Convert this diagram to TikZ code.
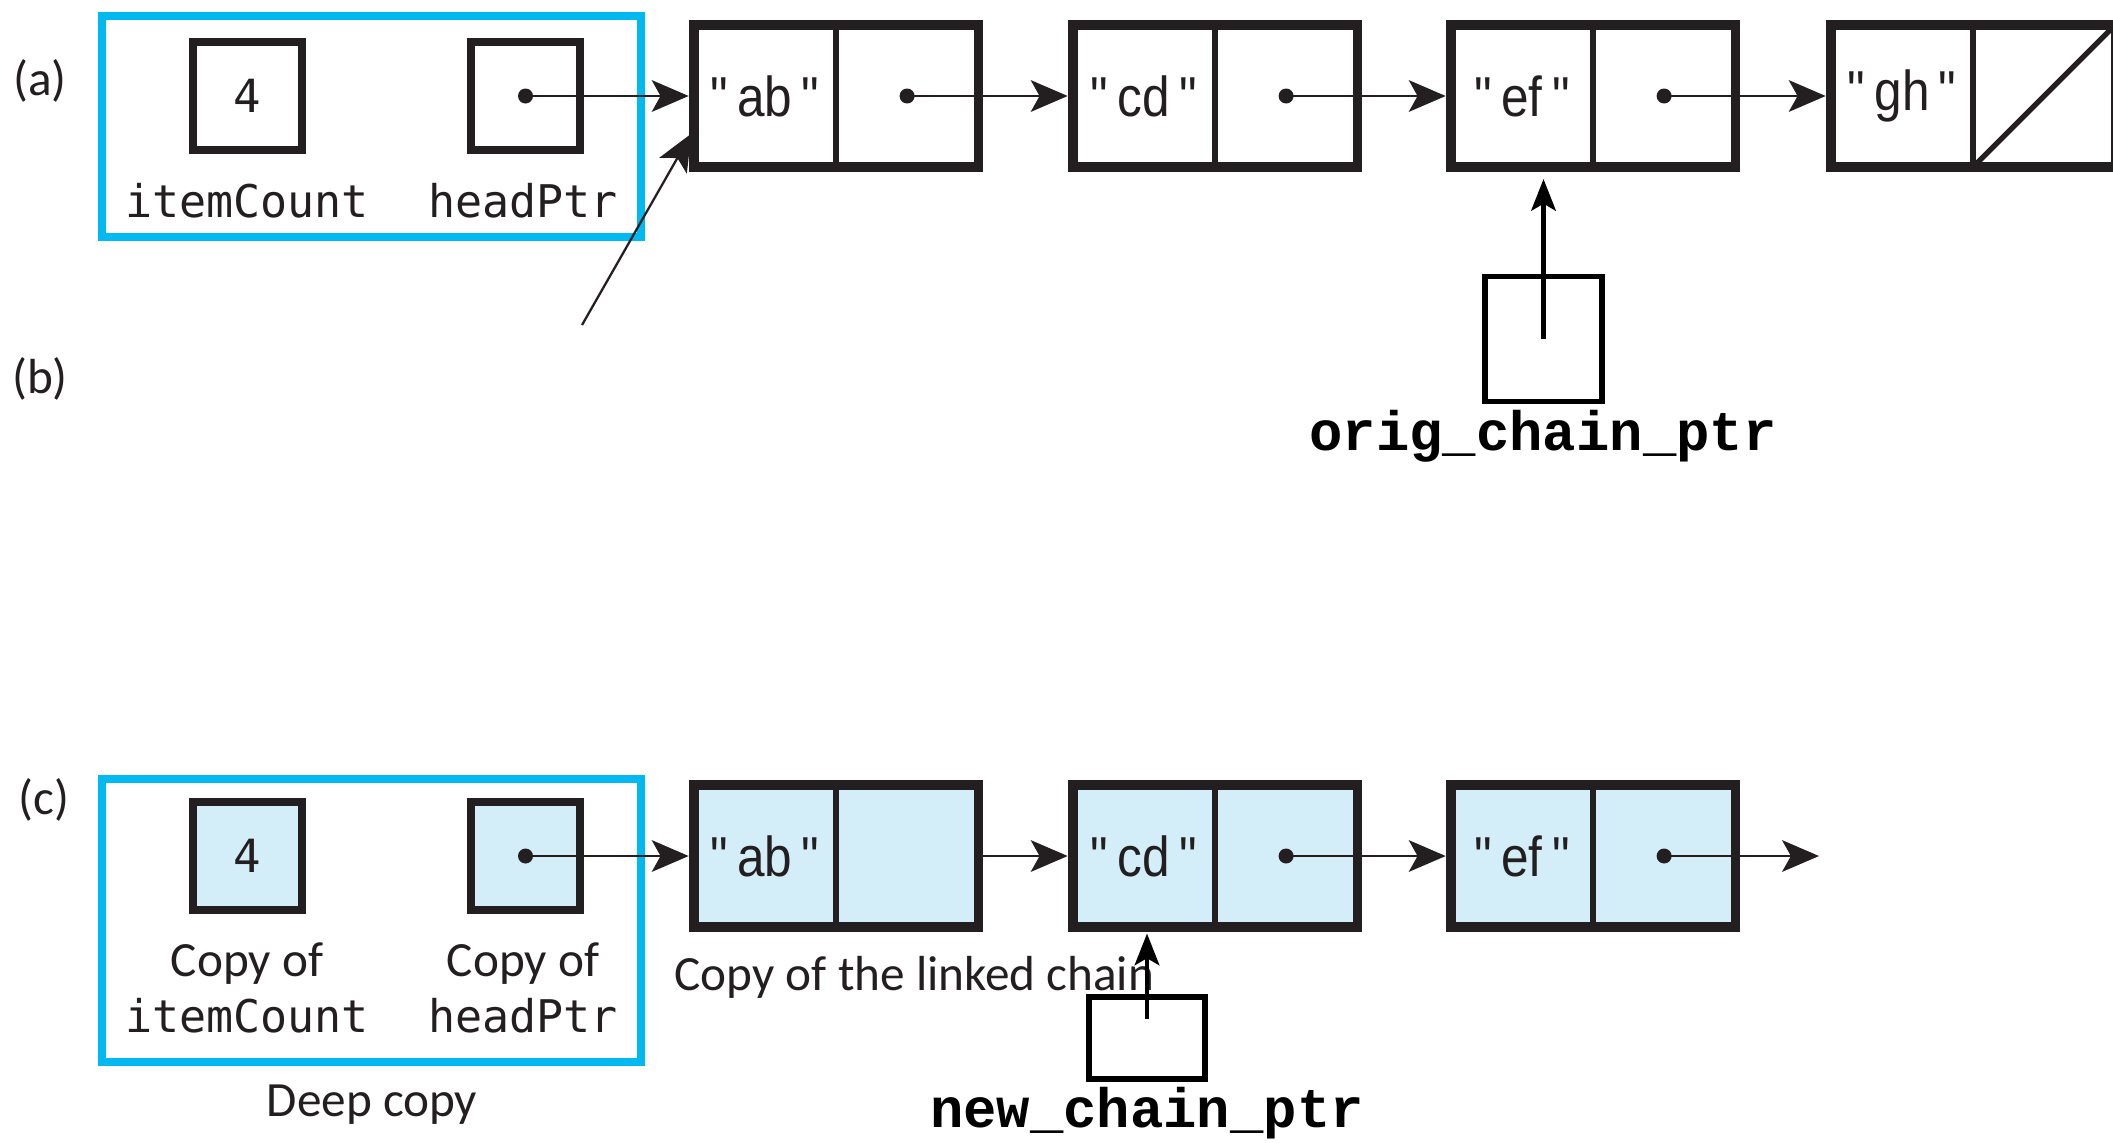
\documentclass[tikz,border=0pt]{standalone}
\usepackage{fontspec}
\setmainfont{Carlito}
\newfontfamily\codefont{DejaVu Sans Mono}
\newfontfamily\ptrfont{Liberation Mono}
\newfontfamily\cellfont[FakeStretch=0.88]{Liberation Sans}
\usetikzlibrary{arrows.meta,positioning}
\definecolor{ink}{HTML}{231F20}
\definecolor{framecyan}{HTML}{00B9F0}
\definecolor{copyfill}{HTML}{D4EEF9}

\begin{document}
\begin{tikzpicture}[
  x=0.01cm, y=-0.01cm,
  >=Stealth,
  cell/.style={
    draw=ink,
    line width=1.5pt,
    outer sep=0pt,
    inner sep=0pt,
    minimum width=1.42cm,
    minimum height=1.42cm,
    font=\cellfont\fontsize{16pt}{18pt}\selectfont,
    text=ink
  },
  cellframe/.style={draw=ink, line width=2.6pt},
  varbox/.style={
    draw=ink,
    line width=2.4pt,
    outer sep=0pt,
    inner sep=0pt,
    minimum width=1.09cm,
    minimum height=1.08cm,
    font=\codefont\fontsize{13pt}{15pt}\selectfont,
    text=ink
  },
  groupframe/.style={draw=framecyan, line width=2.1pt, minimum width=5.39cm, inner sep=0pt},
  ptrbox/.style={draw=black, line width=1.6pt, inner sep=0pt, outer sep=0pt},
  link/.style={-{Stealth[length=10.5pt,width=9pt,inset=2.5pt]}, draw=ink, line width=0.65pt, shorten >=1.5pt},
  extptr/.style={-{Stealth[length=9pt,width=7pt,inset=2pt]}, draw=black, line width=1.3pt},
  varname/.style={font=\codefont\fontsize{12.8pt}{15pt}\selectfont, text=ink, inner sep=0pt},
  caption/.style={font=\fontsize{14pt}{17pt}\selectfont, text=ink, inner sep=0pt},
  ptrname/.style={font=\ptrfont\bfseries\fontsize{15.8pt}{18pt}\selectfont, inner sep=0pt}
]
  \clip (0,0) rectangle (2113,1142);

  % Part labels
  \node[caption] (parta) at (40,81) {(a)};
  \node[caption] (partb) at (40,379) {(b)};
  \node[caption] (partc) at (44,800) {(c)};

  % (a) List object with itemCount and headPtr
  \node[groupframe, minimum height=2.21cm] (origframe) at (371.5,126.5) {};
  \node[varbox] (countbox) at (247.5,96) {4};
  \node[varbox] (headbox) at (525.5,96) {};
  \fill[ink] (headbox.center) circle (0.075cm);
  \node[varname, anchor=base] (countname) at (247,217) {itemCount};
  \node[varname, anchor=base] (headname) at (523,217) {headPtr};

  % Original linked chain
  \node[cell] (ab) at (765,96) {"\,ab\,"};
  \node[cell, right=0pt of ab] (abnext) {};
  \draw[cellframe] (ab.north west) rectangle (abnext.south east);
  \node[cell] (cd) at (1144,96) {"\,cd\,"};
  \node[cell, right=0pt of cd] (cdnext) {};
  \draw[cellframe] (cd.north west) rectangle (cdnext.south east);
  \node[cell] (ef) at (1522,96) {"\,ef\,"};
  \node[cell, right=0pt of ef] (efnext) {};
  \draw[cellframe] (ef.north west) rectangle (efnext.south east);
  \node[cell] (gh) at (1902,96) {"\,gh\,"};
  \node[cell, right=0pt of gh] (ghnext) {};
  \draw[cellframe] (gh.north west) rectangle (ghnext.south east);
  \draw[ink, line width=1.5pt] (ghnext.south west) -- (ghnext.north east);

  \fill[ink] (abnext.center) circle (0.075cm);
  \fill[ink] (cdnext.center) circle (0.075cm);
  \fill[ink] (efnext.center) circle (0.075cm);
  \draw[link] (headbox.center) -- (ab.west);
  \draw[link] (abnext.center) -- (cd.west);
  \draw[link] (cdnext.center) -- (ef.west);
  \draw[link] (efnext.center) -- (gh.west);

  % (b) second pointer into the same chain
  \coordinate (sharedfoot) at (582,325);
  \draw[link] (sharedfoot) -- ([yshift=-0.33cm]ab.west);

  % orig_chain_ptr
  \node[ptrbox, minimum width=1.17cm, minimum height=1.25cm] (origptr) at (1543.5,339) {};
  \draw[extptr, shorten >=0.12cm] (origptr.center) -- (origptr.center |- ef.south);
  \node[ptrname, anchor=base] (origname) at (1543,450) {orig\_chain\_ptr};

  % (c) Deep copy of the list object
  \node[groupframe, minimum height=2.83cm] (copyframe) at (371.5,920.5) {};
  \node[varbox, fill=copyfill] (ccountbox) at (247.5,856) {4};
  \node[varbox, fill=copyfill] (cheadbox) at (525.5,856) {};
  \fill[ink] (cheadbox.center) circle (0.075cm);
  \node[caption, anchor=base] (ccountcap) at (247,976) {Copy of};
  \node[varname, anchor=base] (ccountname) at (247,1032) {itemCount};
  \node[caption, anchor=base] (cheadcap) at (523,976) {Copy of};
  \node[varname, anchor=base] (cheadname) at (523,1032) {headPtr};
  \node[caption, anchor=base] (deepcap) at (372,1116) {Deep copy};

  % Copied linked chain
  \node[cell, fill=copyfill] (cab) at (765,856) {"\,ab\,"};
  \node[cell, fill=copyfill, right=0pt of cab] (cabnext) {};
  \draw[cellframe] (cab.north west) rectangle (cabnext.south east);
  \node[cell, fill=copyfill] (ccd) at (1144,856) {"\,cd\,"};
  \node[cell, fill=copyfill, right=0pt of ccd] (ccdnext) {};
  \draw[cellframe] (ccd.north west) rectangle (ccdnext.south east);
  \node[cell, fill=copyfill] (cef) at (1522,856) {"\,ef\,"};
  \node[cell, fill=copyfill, right=0pt of cef] (cefnext) {};
  \draw[cellframe] (cef.north west) rectangle (cefnext.south east);
  \coordinate (cend) at (1819,856);

  \fill[ink] (ccdnext.center) circle (0.075cm);
  \fill[ink] (cefnext.center) circle (0.075cm);
  \draw[link] (cheadbox.center) -- (cab.west);
  \draw[link] ([xshift=1.3pt]cabnext.east) -- (ccd.west);
  \draw[link] (ccdnext.center) -- (cef.west);
  \draw[link, shorten >=0pt] (cefnext.center) -- (cend);
  \node[caption, anchor=base west] (chaincap) at (674,990) {Copy of the linked chain};

  % new_chain_ptr
  \node[ptrbox, minimum width=1.16cm, minimum height=0.82cm] (newptr) at (1147,1038) {};
  \draw[extptr, shorten >=0.065cm] ([yshift=0.19cm]newptr.center) -- (newptr.center |- ccd.south);
  \node[ptrname, anchor=base] (newname) at (1147,1127) {new\_chain\_ptr};
\end{tikzpicture}
\end{document}
